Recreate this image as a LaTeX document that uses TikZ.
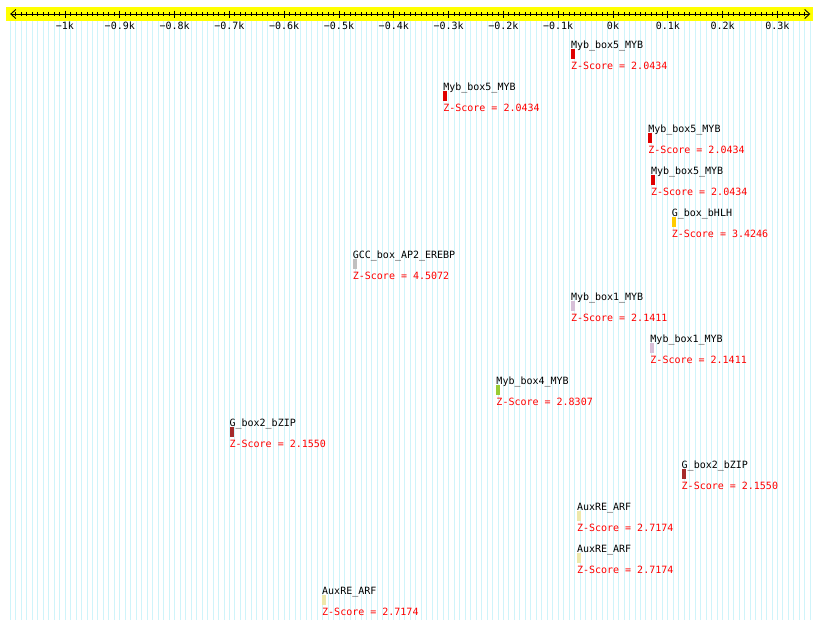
\documentclass[tikz,border=0pt]{standalone}
\usepackage{fontspec}
\setmonofont{DejaVu Sans Mono}
\usetikzlibrary{arrows.meta,positioning}

\definecolor{barYellow}{HTML}{FFFF00}
\definecolor{gridCyan}{HTML}{CFF4FA}
\definecolor{mybRed}{HTML}{E00000}
\definecolor{bhlhGold}{HTML}{FFCC00}
\definecolor{gccGrey}{HTML}{C0C0C0}
\definecolor{mybThistle}{HTML}{D8BFD8}
\definecolor{mybGreen}{HTML}{99CC33}
\definecolor{bzipBrown}{HTML}{A52A2A}
\definecolor{arfPale}{HTML}{EEE8AA}

\begin{document}
\begin{tikzpicture}[
    x=0.548pt, y=-1pt,
    every node/.style={font=\ttfamily\fontsize{10}{12}\selectfont},
    sitename/.style={anchor=base west, inner sep=0pt},
    zscore/.style={anchor=base west, inner sep=0pt, text=red},
    markbox/.style={anchor=north west, inner sep=0pt, minimum width=4pt, minimum height=10pt},
    ticklbl/.style={anchor=base, inner sep=0pt},
  ]
    \useasboundingbox (-1118.6,0) rectangle (377.7,629);
    % grid
    \foreach \t in {-1100,-1090,...,360}
      \draw[gridCyan, line width=0.8pt] (\t,21) -- (\t,620);
    % ruler
    \fill[barYellow] (-1108,7) rectangle (365,21);
    \draw[{Straight Barb[length=5pt,width=9pt]}-{Straight Barb[length=5pt,width=9pt]}, line width=0.9pt]
      (-1100,14) -- (360,14);
    \foreach \t in {-1090,-1080,...,350}
      \draw[line width=0.8pt] (\t,12) -- (\t,16);
    \foreach \t/\lbl in {-1000/−1k,-900/−0.9k,-800/−0.8k,-700/−0.7k,-600/−0.6k,-500/−0.5k,
                         -400/−0.4k,-300/−0.3k,-200/−0.2k,-100/−0.1k,0/0k,100/0.1k,200/0.2k,300/0.3k}
    {
      \draw[line width=0.8pt] (\t,10.5) -- (\t,17.5);
      \node[ticklbl] (tick\t) at (\t,29) {\lbl};
    }
    % sites
    \foreach \pos/\row/\name/\col/\z in {
        -77/0/Myb\_box5\_MYB/mybRed/2.0434,
        -310/1/Myb\_box5\_MYB/mybRed/2.0434,
        64/2/Myb\_box5\_MYB/mybRed/2.0434,
        69/3/Myb\_box5\_MYB/mybRed/2.0434,
        107/4/G\_box\_bHLH/bhlhGold/3.4246,
        -475/5/GCC\_box\_AP2\_EREBP/gccGrey/4.5072,
        -77/6/Myb\_box1\_MYB/mybThistle/2.1411,
        68/7/Myb\_box1\_MYB/mybThistle/2.1411,
        -213/8/Myb\_box4\_MYB/mybGreen/2.8307,
        -700/9/G\_box2\_bZIP/bzipBrown/2.1550,
        125/10/G\_box2\_bZIP/bzipBrown/2.1550,
        -66/11/AuxRE\_ARF/arfPale/2.7174,
        -66/12/AuxRE\_ARF/arfPale/2.7174,
        -531/13/AuxRE\_ARF/arfPale/2.7174}
    {
      \node[sitename] (name\row) at (\pos,{48+42*\row}) {\name};
      \node[markbox, fill=\col] (mark\row) at (\pos,{49+42*\row}) {};
      \node[zscore] (score\row) at (\pos,{69+42*\row}) {Z-Score = \z};
    }
  \end{tikzpicture}
\end{document}
